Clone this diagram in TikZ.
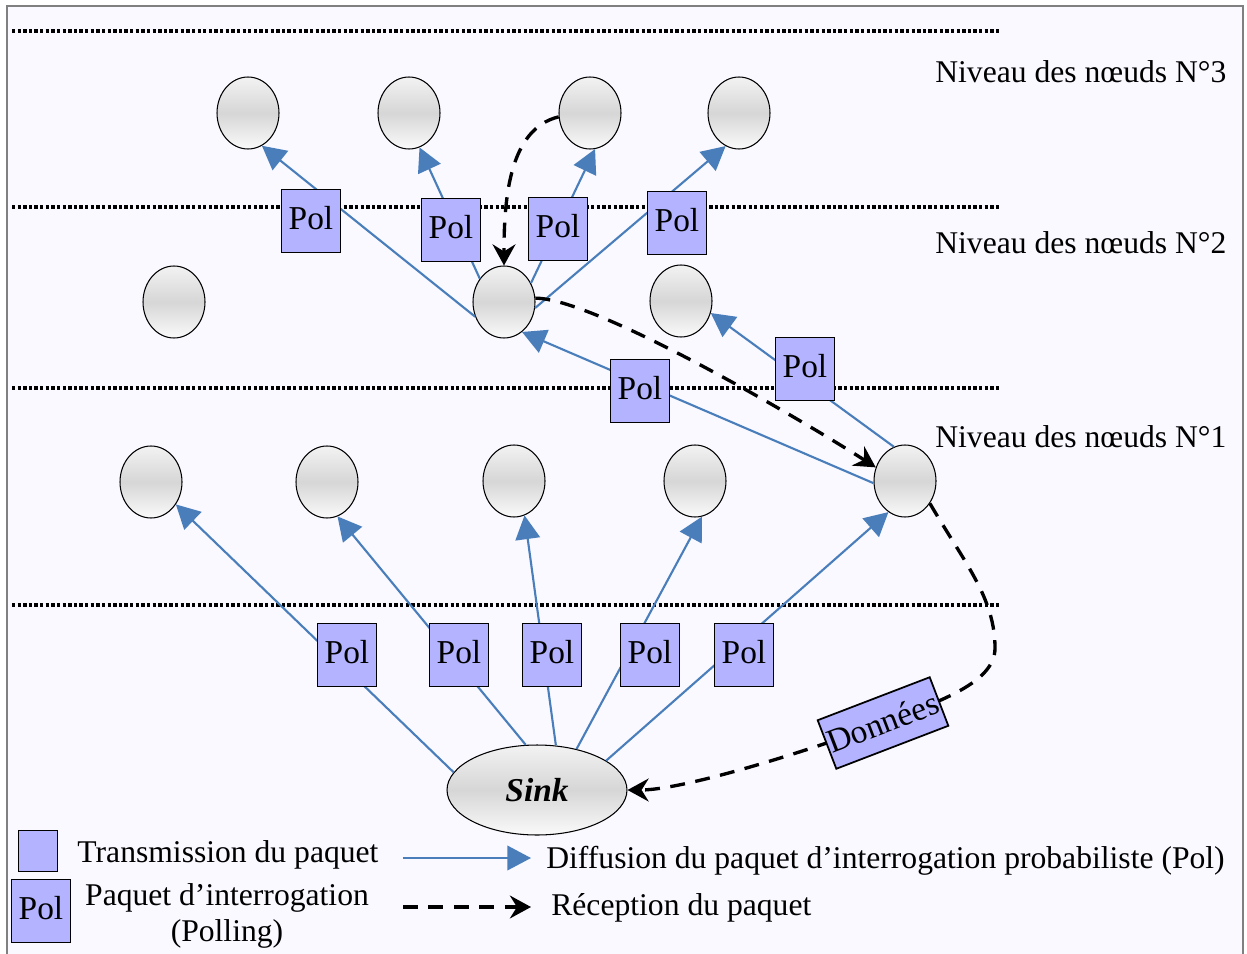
\documentclass[tikz,border=0pt]{standalone}
\usepackage{fontspec}
\setmainfont{Liberation Serif}
\usetikzlibrary{arrows.meta, shapes.geometric}
\definecolor{linkblue}{RGB}{74, 126, 187}
\definecolor{polfill}{RGB}{179, 179, 255}
\definecolor{panelbg}{RGB}{249, 249, 255}
\definecolor{framegray}{RGB}{128, 128, 128}

\begin{document}
\begin{tikzpicture}[x=0.02cm, y=-0.02cm,
  sensor/.style={ellipse, draw, line width=0.6pt, top color=gray!10, bottom color=gray!4, middle color=gray!32, minimum width=1.24cm, minimum height=1.44cm, inner sep=0pt},
  polbox/.style={draw, line width=1pt, fill=polfill, minimum width=1.18cm, minimum height=1.26cm, inner sep=0pt, text depth=0.3em, font=\fontsize{19}{21}\selectfont},
  diffuse/.style={draw=linkblue, line width=1.2pt, -{Triangle[length=13.5pt, width=14pt]}},
  recv/.style={line width=1.9pt, dash pattern=on 8.5pt off 6pt, -{Stealth[length=12pt, width=13pt, inset=4pt]}},
  level/.style={line width=2.1pt, dash pattern=on 1.9pt off 1.3pt},
  lbl/.style={font=\fontsize{18}{20.5}\selectfont, anchor=west, inner sep=0pt}]

  % page and frame
  \fill[white] (0,0) rectangle (1247,953);
  \useasboundingbox (0,0) rectangle (1247,953);
  \draw[framegray, line width=1pt, fill=panelbg] (7,6) rectangle (1243,975);

  % level separators
  \foreach \y in {31, 207, 388, 605}
    \draw[level] (12,\y) -- (1000,\y);

  % Niveau 3
  \node[sensor] (n3a) at (248,113) {};
  \node[sensor] (n3b) at (409,113) {};
  \node[sensor] (n3c) at (590,113) {};
  \node[sensor] (n3d) at (739,113) {};

  % Niveau 2
  \node[sensor] (n2a) at (174,302) {};
  \node[sensor] (n2b) at (504,302) {};
  \node[sensor] (n2c) at (681,301) {};

  % Niveau 1
  \node[sensor] (n1a) at (151,482) {};
  \node[sensor] (n1b) at (327,482) {};
  \node[sensor] (n1c) at (514,481) {};
  \node[sensor] (n1d) at (695,481) {};
  \node[sensor] (n1e) at (905,481) {};

  % Sink
  \node[ellipse, draw, line width=0.6pt, top color=gray!10, bottom color=gray!4, middle color=gray!32, minimum width=3.6cm, minimum height=1.8cm, font=\fontsize{19}{21}\selectfont\bfseries\itshape] (sink) at (537,790) {Sink};

  % diffusion of the polling packet
  \draw[diffuse] (sink.168) -- (n1a.-42);
  \draw[diffuse] (sink.104) -- (n1b.-73);
  \draw[diffuse] (sink.67) -- (n1c.-73);
  \draw[diffuse] (sink.46) -- (n1d.-79);
  \draw[diffuse] (sink.23) -- (n1e.-118);
  \draw[diffuse] (n1e.-176) -- (n2b.-59);
  \draw[diffuse] (n1e.108) -- (n2c.-22);
  \draw[diffuse] (n2b.207) -- (n3a.-67);
  \draw[diffuse] (n2b.136) -- (n3b.-73);
  \draw[diffuse] (n2b.35) -- (n3c.-82);
  \draw[diffuse] (n2b.-11) -- (n3d.-112);

  % reception
  \draw[recv] (n3c.187) .. controls +(-50,12) and +(0,-65) .. (n2b.north);
  \draw[recv] (n2b.7) .. controls +(60,0) and +(-70,-45) .. (n1e.155);
  \coordinate (bend) at (995,648);
  \coordinate (donc) at (883,723);
  \draw[recv] (n1e.-42) .. controls +(35,60) and +(0,-50) .. (bend) .. controls +(0,35) and +(56,-21.5) .. (donc) .. controls +(-56,21.5) and +(60,0) .. (sink.east);

  % Pol packets
  \node[polbox] (p3a) at (311,221) {Pol};
  \node[polbox] (p3b) at (451,230) {Pol};
  \node[polbox] (p3c) at (558,229) {Pol};
  \node[polbox] (p3d) at (677,223) {Pol};
  \node[polbox] (p2a) at (640,391) {Pol};
  \node[polbox] (p2b) at (805,369) {Pol};
  \node[polbox] (p1a) at (347,655) {Pol};
  \node[polbox] (p1b) at (459,655) {Pol};
  \node[polbox] (p1c) at (552,655) {Pol};
  \node[polbox] (p1d) at (650,655) {Pol};
  \node[polbox] (p1e) at (744,655) {Pol};
  \node[polbox, rotate=21, minimum width=2.4cm, minimum height=1.04cm, text depth=0.1em] (don) at (donc) {Données};

  % levels
  \node[lbl] (lv3) at (935,72) {Niveau des nœuds N°3};
  \node[lbl] (lv2) at (935,243) {Niveau des nœuds N°2};
  \node[lbl] (lv1) at (935,437) {Niveau des nœuds N°1};

  % legend
  \node[polbox, minimum width=0.78cm, minimum height=0.82cm] (keybox) at (38,851) {};
  \node[lbl, anchor=center] (keytx) at (228,855) {Transmission du paquet};
  \node[polbox] (keypol) at (41,911) {Pol};
  \node[lbl, anchor=center, align=center] (keypoltx) at (227,916) {Paquet d’interrogation\\(Polling)};
  \coordinate (la1) at (403,858);
  \coordinate (la2) at (531,858);
  \draw[diffuse] (la1) -- (la2);
  \node[lbl] (latx) at (546,861) {Diffusion du paquet d’interrogation probabiliste (Pol)};
  \coordinate (lb1) at (403,907);
  \coordinate (lb2) at (531,907);
  \draw[recv] (lb1) -- (lb2);
  \node[lbl] (lbtx) at (551,908) {Réception du paquet};
\end{tikzpicture}
\end{document}
